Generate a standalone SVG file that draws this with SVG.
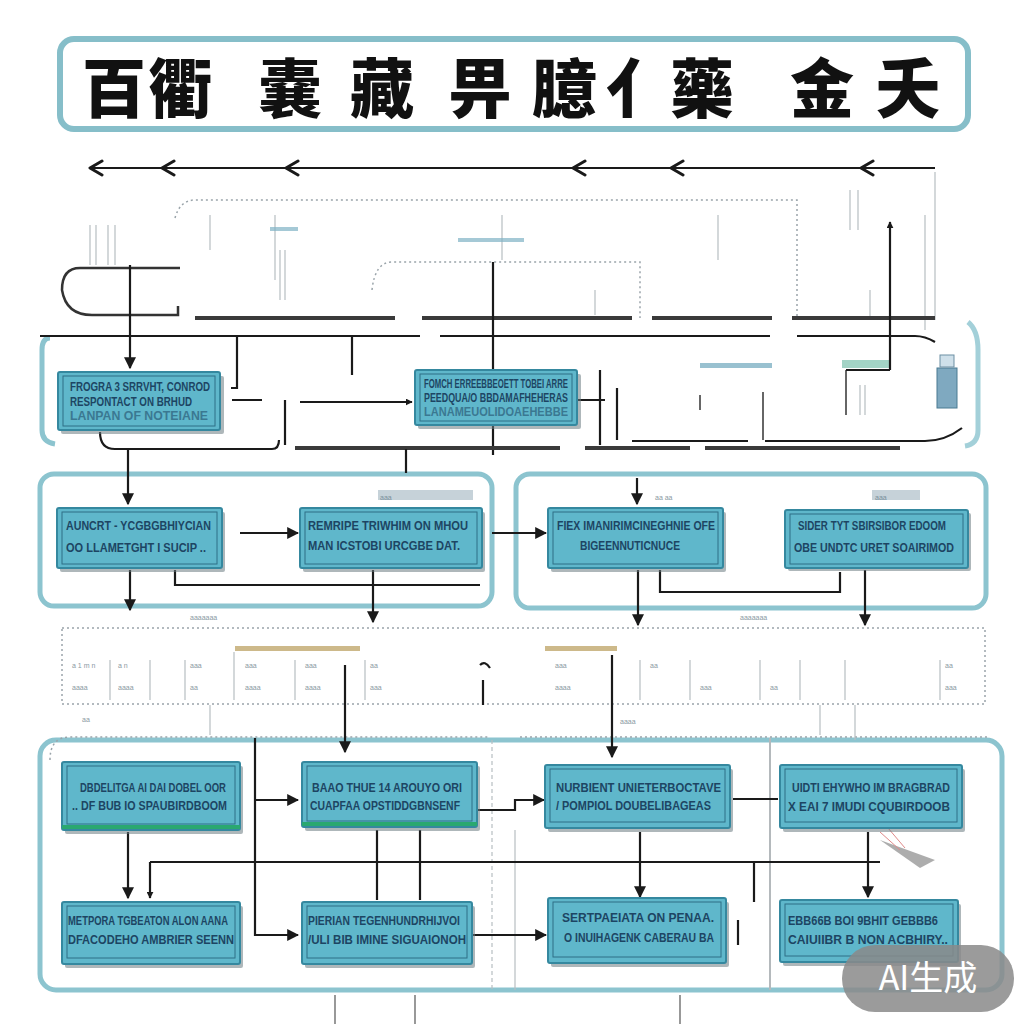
<svg xmlns="http://www.w3.org/2000/svg" width="1024" height="1024" viewBox="0 0 1024 1024">
<defs>
<style>
.title{font-family:"Noto Sans CJK SC","Noto Sans CJK JP",sans-serif;font-weight:900;font-size:64px;fill:#111}
.box{fill:#5fb7cb;stroke:#35889f;stroke-width:2}
.inner{fill:none;stroke:#2f6f86;stroke-width:1}
.shadow{fill:#6b7b82;opacity:0.55}
.bt{font-family:"Liberation Sans",Arial,sans-serif;font-size:12px;font-weight:bold;fill:#1d4563}
.cont{fill:none;stroke:#8cc4cf;stroke-width:5}
.dash{fill:none;stroke:#9aa4aa;stroke-width:1.5;stroke-dasharray:2 3}
.ln{fill:none;stroke:#1a1a1a;stroke-width:2.2}
.thick{fill:none;stroke:#3a3a3a;stroke-width:4}
.faint{fill:none;stroke:#b7bec2;stroke-width:1.2}
.ft{font-family:"Liberation Sans",Arial,sans-serif;font-size:7px;fill:#8a99a3}
</style>
<marker id="ah" viewBox="0 0 10 10" refX="9" refY="5" markerWidth="7" markerHeight="7" orient="auto" markerUnits="userSpaceOnUse">
<path d="M0,0 L10,5 L0,10 z" fill="#1a1a1a"/>
</marker>
<marker id="ahb" viewBox="0 0 10 10" refX="9" refY="5" markerWidth="12" markerHeight="12" orient="auto" markerUnits="userSpaceOnUse">
<path d="M0,0 L10,5 L0,10 z" fill="#1a1a1a"/>
</marker>
</defs>
<rect width="1024" height="1024" fill="#ffffff"/>

<!-- Title -->
<g id="title">
<rect x="60" y="39" width="908" height="90" rx="14" fill="#fff" stroke="#86bec9" stroke-width="6"/>
<text class="title" y="112"><tspan x="82">百</tspan><tspan x="148">衢</tspan><tspan x="258">嚢</tspan><tspan x="350">藏</tspan><tspan x="448">畀</tspan><tspan x="532">臆</tspan><tspan x="606">亻</tspan><tspan x="670">藥</tspan><tspan x="790">金</tspan><tspan x="876">夭</tspan></text>
</g>

<!-- containers -->
<g id="containers">
<path class="cont" d="M50,338 Q42,338 42,350 V430 Q42,442 55,444"/>
<path class="cont" d="M968,322 Q978,330 978,350 V430 Q978,444 965,446" opacity="0.8"/>
<rect class="cont" x="40" y="474" width="452" height="132" rx="14"/>
<rect class="cont" x="516" y="474" width="470" height="134" rx="14"/>
<rect class="cont" x="40" y="740" width="962" height="250" rx="16"/>
<rect x="62" y="628" width="923" height="76" class="dash"/>
<path class="dash" d="M50,760 Q50,737 70,737 H488 M520,737 H990"/>
<path class="faint" d="M492,740 V990" stroke-dasharray="4 3"/>
<path class="faint" d="M515,830 V990"/>
<path d="M770,738 V990" stroke="#b4b9bc" stroke-width="2" fill="none"/>
</g>

<!-- faint upper details -->
<g id="details">
<path class="dash" d="M175,218 Q180,200 195,200 H797 V318"/>
<path class="dash" d="M372,290 Q375,262 392,262 H640 V318"/>
<path class="faint" d="M275,215 V280 M502,215 V260 M718,215 V260 M210,215 V250 M595,290 V315"/>
<rect x="458" y="238" width="66" height="4" fill="#7fb2c4" opacity="0.7"/>
<rect x="270" y="227" width="28" height="4" fill="#7fb2c4" opacity="0.7"/>
<path class="faint" d="M280,250 V300 M285,250 V300 M90,225 V265 M96,225 V265 M108,225 V265 M115,225 V265" stroke="#8f9aa0"/>
<path class="faint" d="M850,190 V230 M858,190 V230 M935,172 V320 M870,290 V320 M925,215 V330" stroke="#8f9aa0"/>
<rect x="700" y="363" width="72" height="5" fill="#7fb2c4" opacity="0.8"/>
<rect x="842" y="360" width="48" height="8" fill="#8cc9b8" opacity="0.8"/>
<path d="M846,370 V415 M763,392 V440 M700,395 V410" stroke="#666" stroke-width="2" fill="none"/>
<rect x="937" y="368" width="20" height="40" fill="#7fa9c0" stroke="#4a7a92" stroke-width="1"/>
<rect x="940" y="355" width="14" height="12" fill="#cfe0ea" stroke="#6d8fa3" stroke-width="1"/>
<path class="faint" d="M860,385 V415 M865,385 V415"/>
<rect x="235" y="646" width="125" height="5" fill="#cdb98a"/>
<rect x="545" y="646" width="72" height="5" fill="#cdb98a"/>
<path class="faint" d="M110,660 V700 M150,660 V700 M185,660 V700 M234,652 V700 M295,660 V700 M365,660 V700 M640,660 V700 M690,660 V700 M760,660 V700 M800,660 V700 M845,660 V700 M940,660 V700 M210,705 V735 M820,705 V735 M855,705 V740" stroke="#9aa2a8"/>
<text class="ft" x="72" y="668">a 1 m n</text><text class="ft" x="72" y="690">aaaa</text>
<text class="ft" x="118" y="668">a n</text><text class="ft" x="118" y="690">aaaa</text>
<text class="ft" x="190" y="668">aaa</text><text class="ft" x="190" y="690">aa</text>
<text class="ft" x="245" y="668">aaa</text><text class="ft" x="245" y="690">aaaa</text>
<text class="ft" x="305" y="668">aaa</text><text class="ft" x="305" y="690">aaaa</text>
<text class="ft" x="370" y="668">aa</text><text class="ft" x="370" y="690">aaa</text>
<text class="ft" x="555" y="668">aaa</text><text class="ft" x="555" y="690">aaaa</text>
<text class="ft" x="650" y="668">aa</text><text class="ft" x="700" y="690">aaa</text>
<text class="ft" x="770" y="690">aa</text><text class="ft" x="945" y="668">aa</text><text class="ft" x="945" y="690">aaa</text>
<text class="ft" x="190" y="620">aaaaaaa</text><text class="ft" x="740" y="620">aaaaaaa</text>
<text class="ft" x="380" y="500">aaa</text><text class="ft" x="875" y="500">aaa</text>
<text class="ft" x="655" y="500">aa aa</text><text class="ft" x="620" y="724">aaaa</text><text class="ft" x="82" y="722">aa</text>
<rect x="378" y="490" width="95" height="10" fill="#5c7f93" opacity="0.35"/>
<rect x="872" y="490" width="48" height="10" fill="#5c7f93" opacity="0.35"/>
<path d="M880,840 L935,860 L920,868 Z" fill="#8a8a8a" opacity="0.7"/>
<path d="M880,832 L900,850 M888,828 L905,848" stroke="#e08a8a" stroke-width="1" fill="none"/>
</g>

<!-- connectors -->
<g id="connectors">
<line x1="935" y1="168" x2="90" y2="168" stroke="#1a1a1a" stroke-width="2"/>
<path d="M102,161 L90,168 L102,175 M174,161 L162,168 L174,175 M298,161 L286,168 L298,175 M585,161 L573,168 L585,175 M683,161 L671,168 L683,175 M873,161 L861,168 L873,175" fill="none" stroke="#1a1a1a" stroke-width="3" stroke-linecap="round" stroke-linejoin="round"/>
<path d="M180,268 H80 Q62,268 62,290 Q66,315 92,315 H178 V306" fill="none" stroke="#333" stroke-width="2.5"/>
<path class="thick" d="M195,318 H395 M422,318 H632 M652,318 H772 M792,318 H935"/>
<path class="ln" d="M40,336 H420 M440,336 H770 M797,336 H915 Q925,336 935,342"/>
<path class="ln" d="M130,265 V368" marker-end="url(#ahb)"/>
<path class="ln" d="M237,336 V388 H231"/>
<path class="ln" d="M352,336 V375"/>
<path class="ln" d="M493,262 V455"/>
<path class="ln" d="M890,370 V222" marker-end="url(#ah)"/>
<path class="ln" d="M890,370 H846"/>
<path class="ln" d="M232,400 H262 M300,402 H412" marker-end="url(#ah)"/>
<path class="ln" d="M285,400 V445"/>
<path class="ln" d="M578,400 H605 M617,388 V440 M600,370 V445"/>
<path class="ln" d="M632,441 H748 M765,441 H925 Q945,441 962,428"/>
<path class="ln" d="M100,432 Q100,449 115,449 H272 Q279,449 279,440"/>
<path class="thick" d="M295,448 H560 M585,448 H690 M705,448 H900" stroke-width="3"/>
<path class="ln" d="M128,449 V504" marker-end="url(#ahb)"/>
<path class="ln" d="M406,449 V473"/>
<path class="ln" d="M637,478 V504" marker-end="url(#ahb)"/>
<path class="ln" d="M240,533 H298" marker-end="url(#ahb)"/>
<path class="ln" d="M492,533 H546" marker-end="url(#ahb)"/>
<path class="ln" d="M130,570 V610" marker-end="url(#ahb)"/>
<path class="ln" d="M175,570 V585 H480"/>
<path class="ln" d="M373,570 V622" marker-end="url(#ahb)"/>
<path class="ln" d="M638,570 V625" marker-end="url(#ahb)"/>
<path class="ln" d="M660,570 V592 H840 V572"/>
<path class="ln" d="M865,570 V625" marker-end="url(#ahb)"/>
<path class="ln" d="M345,665 V752" marker-end="url(#ahb)"/>
<path class="ln" d="M612,655 V757" marker-end="url(#ahb)"/>
<path class="ln" d="M480,665 Q485,660 490,668 M483,680 V705"/>
<path class="ln" d="M128,832 V898" marker-end="url(#ahb)"/>
<path class="ln" d="M150,862 V898" marker-end="url(#ah)"/>
<path class="ln" d="M150,862 H880" stroke-width="3"/>
<path class="ln" d="M255,800 H298" marker-end="url(#ahb)"/>
<path class="ln" d="M255,738 V935 H298" marker-end="url(#ahb)"/>
<path class="ln" d="M377,830 V900 M420,830 V900"/>
<path class="ln" d="M478,810 H515 V800 H544" marker-end="url(#ahb)"/>
<path class="ln" d="M733,799 H778" stroke-width="3"/>
<path class="ln" d="M640,832 V897" marker-end="url(#ahb)"/>
<path class="ln" d="M868,832 V897" marker-end="url(#ahb)"/>
<path class="ln" d="M472,935 H546" marker-end="url(#ahb)"/>
<path class="ln" d="M738,920 V945" stroke-width="5"/>
<path class="ln" d="M754,862 V902" stroke-width="1.5"/>
<path d="M335,995 V1024 M415,995 V1024 M680,995 V1024" stroke="#555" stroke-width="1.2" fill="none"/>
</g>

<!-- nodes -->
<g id="nA">
<rect class="shadow" x="61" y="376" width="163" height="58" rx="2"/>
<rect class="box" x="58" y="372" width="162" height="58" rx="2"/>
<rect class="inner" x="63" y="376" width="152" height="50"/>
<text class="bt" x="70" y="391" textLength="140" lengthAdjust="spacingAndGlyphs">FROGRA 3 SRRVHT, CONROD</text>
<text class="bt" x="70" y="406" textLength="122" lengthAdjust="spacingAndGlyphs">RESPONTACT ON BRHUD</text>
<text class="bt" x="70" y="420" textLength="138" lengthAdjust="spacingAndGlyphs" opacity="0.55">LANPAN OF NOTEIANE</text>
</g>
<g id="nB">
<rect class="shadow" x="418" y="374" width="163" height="55" rx="2"/>
<rect class="box" x="415" y="370" width="162" height="55" rx="2"/>
<rect class="inner" x="420" y="374" width="152" height="47"/>
<text class="bt" x="424" y="388" textLength="144" lengthAdjust="spacingAndGlyphs">FOMCH ERREEBBEOETT TOBEI ARRE</text>
<text class="bt" x="424" y="402" textLength="144" lengthAdjust="spacingAndGlyphs">PEEDQUA/O BBDAMAFHEHERAS</text>
<text class="bt" x="424" y="416" textLength="144" lengthAdjust="spacingAndGlyphs" opacity="0.55">LANAMEUOLIDOAEHEBBE</text>
</g>
<g id="nC">
<rect class="shadow" x="60" y="512" width="165" height="60" rx="2"/>
<rect class="box" x="57" y="508" width="165" height="60" rx="2"/>
<rect class="inner" x="62" y="512" width="155" height="52"/>
<text class="bt" x="66" y="530" textLength="145" lengthAdjust="spacingAndGlyphs">AUNCRT - YCGBGBHIYCIAN</text>
<text class="bt" x="66" y="552" textLength="140" lengthAdjust="spacingAndGlyphs">OO LLAMETGHT I SUCIP ..</text>
</g>
<g id="nD">
<rect class="shadow" x="303" y="512" width="182" height="60" rx="2"/>
<rect class="box" x="300" y="508" width="182" height="60" rx="2"/>
<rect class="inner" x="305" y="512" width="172" height="52"/>
<text class="bt" x="308" y="530" textLength="160" lengthAdjust="spacingAndGlyphs">REMRIPE TRIWHIM ON MHOU</text>
<text class="bt" x="308" y="550" textLength="152" lengthAdjust="spacingAndGlyphs">MAN ICSTOBI URCGBE DAT.</text>
</g>
<g id="nE">
<rect class="shadow" x="551" y="512" width="175" height="60" rx="2"/>
<rect class="box" x="548" y="508" width="175" height="60" rx="2"/>
<rect class="inner" x="553" y="512" width="165" height="52"/>
<text class="bt" x="557" y="530" textLength="158" lengthAdjust="spacingAndGlyphs">FIEX IMANIRIMCINEGHNIE OFE</text>
<text class="bt" x="580" y="550" textLength="100" lengthAdjust="spacingAndGlyphs">BIGEENNUTICNUCE</text>
</g>
<g id="nF">
<rect class="shadow" x="788" y="513" width="183" height="58" rx="2"/>
<rect class="box" x="785" y="510" width="183" height="58" rx="2"/>
<rect class="inner" x="790" y="514" width="173" height="50"/>
<text class="bt" x="798" y="530" textLength="148" lengthAdjust="spacingAndGlyphs">SIDER TYT SBIRSIBOR EDOOM</text>
<text class="bt" x="794" y="552" textLength="160" lengthAdjust="spacingAndGlyphs">OBE UNDTC URET SOAIRIMOD</text>
</g>
<g id="nG">
<rect class="shadow" x="65" y="766" width="178" height="68" rx="2"/>
<rect class="box" x="62" y="762" width="178" height="68" rx="2"/>
<rect class="inner" x="67" y="766" width="168" height="58"/>
<rect x="62" y="825" width="178" height="4" fill="#2aa870"/>
<text class="bt" x="80" y="792" textLength="146" lengthAdjust="spacingAndGlyphs">DBDELITGA AI DAI DOBEL OOR</text>
<text class="bt" x="72" y="810" textLength="155" lengthAdjust="spacingAndGlyphs">.. DF BUB IO SPAUBIRDBOOM</text>
</g>
<g id="nH">
<rect class="shadow" x="305" y="766" width="175" height="65" rx="2"/>
<rect class="box" x="302" y="762" width="175" height="65" rx="2"/>
<rect class="inner" x="307" y="766" width="165" height="55"/>
<rect x="302" y="822" width="175" height="4" fill="#2aa870"/>
<text class="bt" x="312" y="792" textLength="150" lengthAdjust="spacingAndGlyphs">BAAO THUE 14 AROUYO ORI</text>
<text class="bt" x="310" y="810" textLength="150" lengthAdjust="spacingAndGlyphs">CUAPFAA OPSTIDDGBNSENF</text>
</g>
<g id="nI">
<rect class="shadow" x="548" y="769" width="185" height="63" rx="2"/>
<rect class="box" x="545" y="765" width="185" height="63" rx="2"/>
<rect class="inner" x="550" y="769" width="175" height="53"/>
<text class="bt" x="556" y="792" textLength="165" lengthAdjust="spacingAndGlyphs">NURBIENT UNIETERBOCTAVE</text>
<text class="bt" x="556" y="810" textLength="155" lengthAdjust="spacingAndGlyphs">/ POMPIOL DOUBELIBAGEAS</text>
</g>
<g id="nJ">
<rect class="shadow" x="783" y="769" width="182" height="63" rx="2"/>
<rect class="box" x="780" y="765" width="182" height="63" rx="2"/>
<rect class="inner" x="785" y="769" width="172" height="53"/>
<text class="bt" x="792" y="792" textLength="158" lengthAdjust="spacingAndGlyphs">UIDTI EHYWHO IM BRAGBRAD</text>
<text class="bt" x="788" y="811" textLength="162" lengthAdjust="spacingAndGlyphs">X EAI 7 IMUDI CQUBIRDOOB</text>
</g>
<g id="nK">
<rect class="shadow" x="65" y="906" width="178" height="62" rx="2"/>
<rect class="box" x="62" y="902" width="178" height="62" rx="2"/>
<rect class="inner" x="67" y="906" width="168" height="52"/>
<text class="bt" x="68" y="925" textLength="160" lengthAdjust="spacingAndGlyphs">METPORA TGBEATON ALON AANA</text>
<text class="bt" x="68" y="944" textLength="166" lengthAdjust="spacingAndGlyphs">DFACODEHO AMBRIER SEENN</text>
</g>
<g id="nL">
<rect class="shadow" x="305" y="906" width="170" height="62" rx="2"/>
<rect class="box" x="302" y="902" width="170" height="62" rx="2"/>
<rect class="inner" x="307" y="906" width="160" height="52"/>
<text class="bt" x="308" y="925" textLength="152" lengthAdjust="spacingAndGlyphs">PIERIAN TEGENHUNDRHIJVOI</text>
<text class="bt" x="308" y="944" textLength="158" lengthAdjust="spacingAndGlyphs">/ULI BIB IMINE SIGUAIONOH</text>
</g>
<g id="nM">
<rect class="shadow" x="551" y="902" width="178" height="65" rx="2"/>
<rect class="box" x="548" y="898" width="178" height="65" rx="2"/>
<rect class="inner" x="553" y="902" width="168" height="55"/>
<text class="bt" x="562" y="922" textLength="152" lengthAdjust="spacingAndGlyphs">SERTPAEIATA ON PENAA.</text>
<text class="bt" x="564" y="942" textLength="150" lengthAdjust="spacingAndGlyphs">O INUIHAGENK CABERAU BA</text>
</g>
<g id="nN">
<rect class="shadow" x="783" y="904" width="178" height="62" rx="2"/>
<rect class="box" x="780" y="900" width="178" height="62" rx="2"/>
<rect class="inner" x="785" y="904" width="168" height="52"/>
<text class="bt" x="788" y="925" textLength="150" lengthAdjust="spacingAndGlyphs">EBB66B BOI 9BHIT GEBBB6</text>
<text class="bt" x="788" y="944" textLength="160" lengthAdjust="spacingAndGlyphs">CAIUIIBR B NON ACBHIRY..</text>
</g>

<!-- watermark -->
<g id="watermark">
<rect x="842" y="945" width="172" height="67" rx="33" fill="#8a8a8a" opacity="0.85"/>
<text x="928" y="990" text-anchor="middle" font-family="Noto Sans CJK SC, sans-serif" font-size="34" fill="#ffffff">AI生成</text>
</g>
</svg>
